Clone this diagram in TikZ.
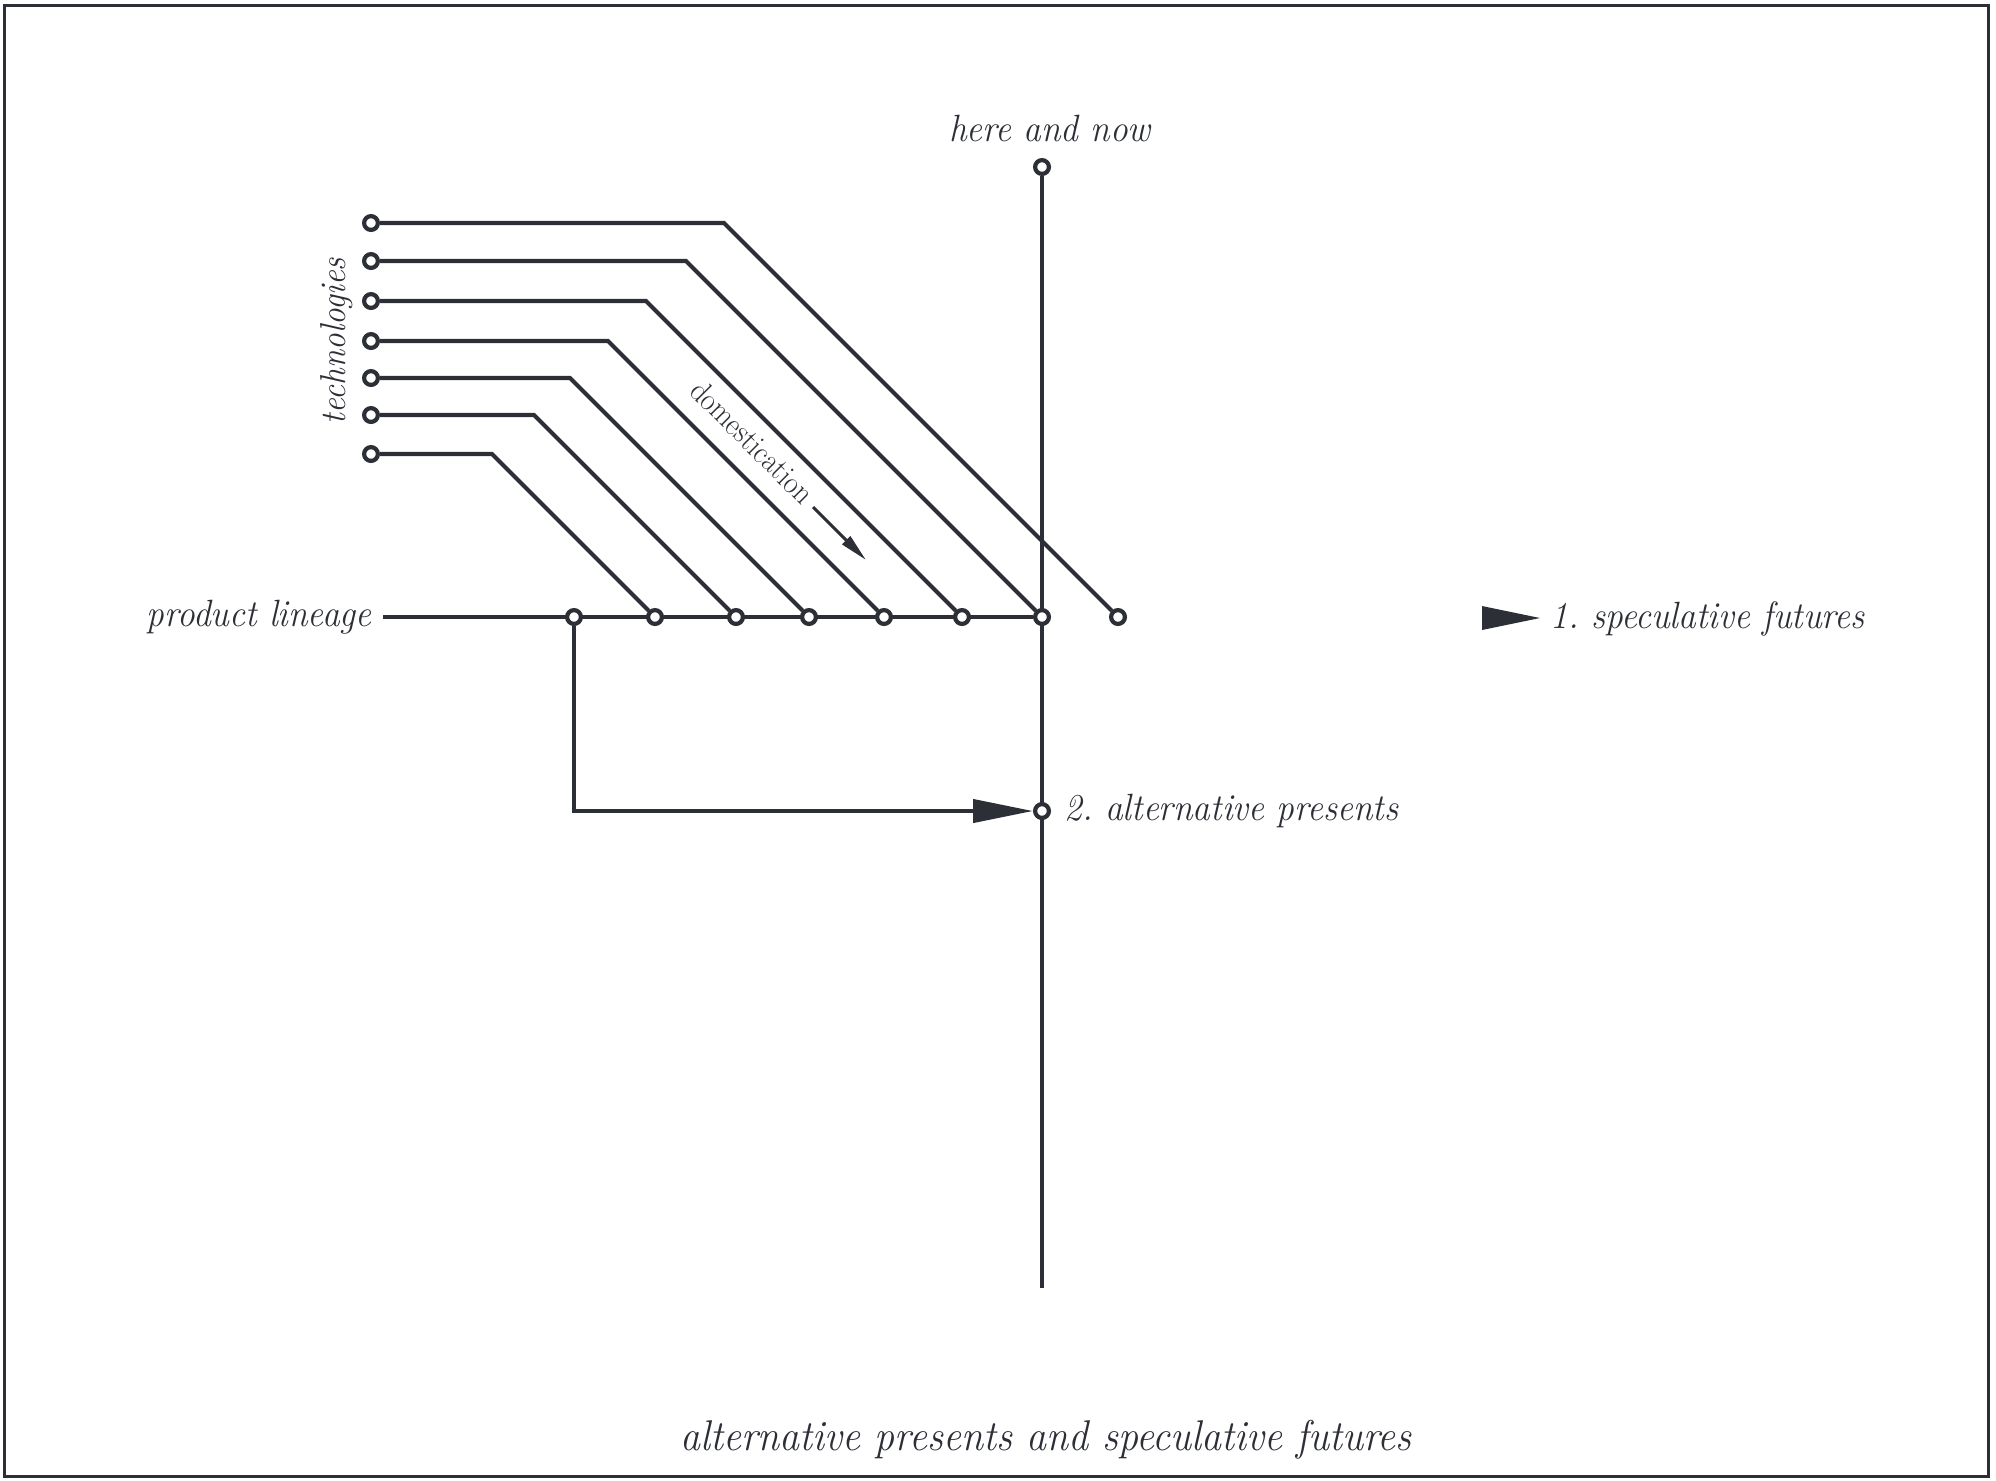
\documentclass[tikz,border=0pt]{standalone}
\usepackage{graphicx}
\usetikzlibrary{arrows.meta,backgrounds}
\definecolor{ink}{RGB}{44,47,54}
\newcommand{\nx}[1]{\scalebox{0.93}[1]{#1}}
\frenchspacing
\begin{document}
\begin{tikzpicture}[x=0.5pt,y=-0.5pt,
  dot/.style={circle,draw=ink,fill=white,line width=2.1pt,inner sep=0pt,minimum size=6.9pt},
  wire/.style={draw=ink,line width=2.1pt},
  lbl/.style={text=ink,inner sep=0pt,font=\fontsize{19}{22}\selectfont\itshape},
  ]
\useasboundingbox (0,0) rectangle (1996,1480);
\draw[ink,line width=1.5pt] (4,5) rectangle (1988,1476.5);

% dots
\node[dot] (top) at (1042,167) {};
\node[dot] (t1) at (371,223) {};
\node[dot] (t2) at (371,261) {};
\node[dot] (t3) at (371,301) {};
\node[dot] (t4) at (371,341) {};
\node[dot] (t5) at (371,378) {};
\node[dot] (t6) at (371,415) {};
\node[dot] (t7) at (371,454) {};
\node[dot] (e1) at (1118,617) {};
\node[dot] (e2) at (1042,617) {};
\node[dot] (e3) at (962,617) {};
\node[dot] (e4) at (884,617) {};
\node[dot] (e5) at (809,617) {};
\node[dot] (e6) at (736,617) {};
\node[dot] (e7) at (655,617) {};
\node[dot] (pl) at (574,617) {};
\node[dot] (alt) at (1042,811) {};

\coordinate (b1) at (724,223);
\coordinate (b2) at (686,261);
\coordinate (b3) at (646,301);
\coordinate (b4) at (608,341);
\coordinate (b5) at (570,378);
\coordinate (b6) at (534,415);
\coordinate (b7) at (492,454);
\coordinate (mainstart) at (383,617);
\coordinate (vend) at (1042,1288);
\coordinate (da) at (813,507);
\coordinate (db) at (866,560);
\coordinate (s1) at (1482,606);
\coordinate (s2) at (1540,618);
\coordinate (s3) at (1482,630);

\begin{scope}[on background layer]
\draw[wire] (top) -- (vend);
\draw[wire] (mainstart) -- (e2);
\draw[wire] (t1) -- (b1) -- (e1);
\draw[wire] (t2) -- (b2) -- (e2);
\draw[wire] (t3) -- (b3) -- (e3);
\draw[wire] (t4) -- (b4) -- (e4);
\draw[wire] (t5) -- (b5) -- (e5);
\draw[wire] (t6) -- (b6) -- (e6);
\draw[wire] (t7) -- (b7) -- (e7);
\draw[wire,-{Triangle[length=30pt,width=11.5pt]}] (pl) |- (alt);
\end{scope}

\draw[ink,line width=1.5pt,-{Triangle[length=14pt,width=5.5pt]}] (da) -- (db);
\fill[ink] (s1) -- (s2) -- (s3) -- cycle;

% labels
\node[lbl,anchor=base] (hn) at (1050,141.7) {\nx{here and now}};
\node[lbl,anchor=base east] (plt) at (372,626) {\nx{product lineage}};
\node[lbl,anchor=base west] (sf) at (1550,628) {\nx{1. speculative futures}};
\node[lbl,anchor=base west] (ap) at (1064,820) {\nx{2. alternative presents}};
\node[lbl,anchor=base,font=\fontsize{21.5}{25}\selectfont\itshape] (title) at (1046,1450) {\nx{alternative presents and speculative futures}};
\node[lbl,anchor=base,rotate=90,font=\fontsize{18}{21}\selectfont\itshape] (tech) at (345,341) {\scalebox{0.92}[1]{technologies}};
\node[text=ink,inner sep=0pt,anchor=base,rotate=-45,font=\fontsize{16}{19}\selectfont] (dom) at (745,449.5) {\scalebox{0.9}[1]{domestication}};
\end{tikzpicture}
\end{document}
